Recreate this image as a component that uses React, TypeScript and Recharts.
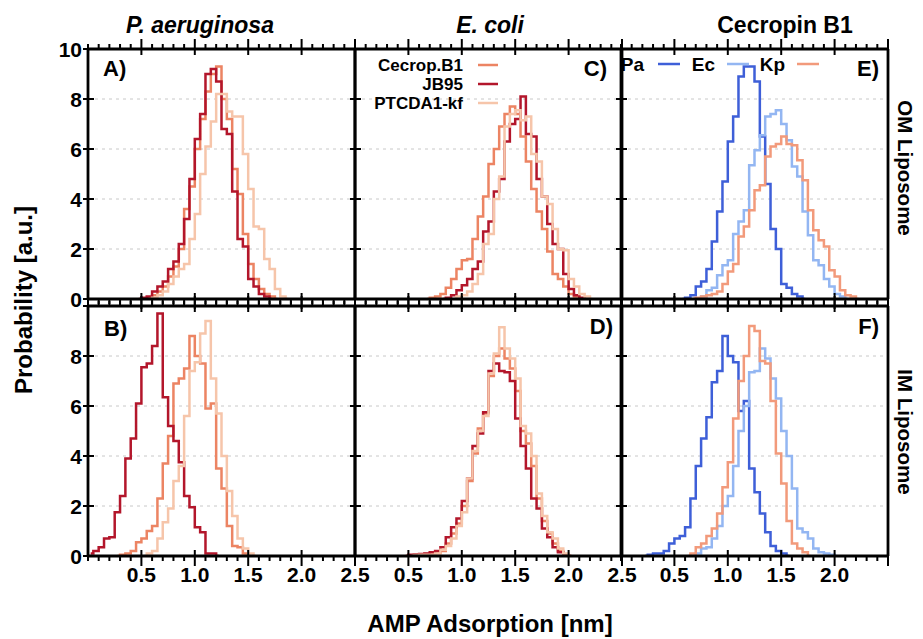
import React from 'react';
import { LineChart, Line, XAxis, YAxis, CartesianGrid } from 'recharts';

// Bin centres (nm), bin width 0.05
const bins = [
  0.025, 0.075, 0.125, 0.175, 0.225, 0.275, 0.325, 0.375, 0.425, 0.475,
  0.525, 0.575, 0.625, 0.675, 0.725, 0.775, 0.825, 0.875, 0.925, 0.975,
  1.025, 1.075, 1.125, 1.175, 1.225, 1.275, 1.325, 1.375, 1.425, 1.475,
  1.525, 1.575, 1.625, 1.675, 1.725, 1.775, 1.825, 1.875, 1.925, 1.975,
  2.025, 2.075, 2.125, 2.175, 2.225, 2.275, 2.325, 2.375, 2.425, 2.475,
];

const _ = null;

// A) P. aeruginosa, OM liposome
const aCecrop = [
  _, _, _, _, _, _, _, _, _, _,
  0, 0.05, 0.15, 0.3, 0.5, 0.9, 1.3, 2.0, 3.6, 4.5,
  6.0, 7.2, 8.3, 9.0, 9.3, 8.0, 7.2, 5.2, 4.2, 2.6,
  1.4, 0.8, 0.4, 0.2, 0.1, 0, _, _, _, _,
  _, _, _, _, _, _, _, _, _, _,
];
const aJB95 = [
  _, _, _, _, _, _, _, _, _, 0,
  0.05, 0.1, 0.3, 0.5, 0.7, 1.2, 1.5, 2.2, 3.2, 4.8,
  6.4, 7.4, 9.0, 9.2, 8.7, 6.8, 6.6, 4.3, 2.4, 2.1,
  0.8, 0.5, 0.2, 0.1, 0, _, _, _, _, _,
  _, _, _, _, _, _, _, _, _, _,
];
const aPTCDA = [
  _, _, _, _, _, _, _, _, _, _,
  _, 0, 0.05, 0.15, 0.3, 0.6, 0.9, 1.2, 1.4, 2.4,
  3.4, 5.0, 6.1, 7.1, 8.2, 8.2, 7.5, 7.3, 7.3, 5.8,
  4.4, 2.9, 2.8, 1.6, 1.2, 0.4, 0.1, 0, _, _,
  _, _, _, _, _, _, _, _, _, _,
];

// B) P. aeruginosa, IM liposome
const bCecrop = [
  _, _, _, _, _, 0, 0.05, 0.1, 0.2, 0.55,
  0.7, 1.0, 1.2, 2.3, 3.7, 4.8, 6.9, 7.1, 7.5, 8.8,
  8.0, 7.7, 5.9, 6.1, 3.5, 2.7, 1.2, 0.4, 0.35, 0.1,
  0, _, _, _, _, _, _, _, _, _,
  _, _, _, _, _, _, _, _, _, _,
];
const bJB95 = [
  0.1, 0.2, 0.35, 0.7, 0.75, 1.75, 2.4, 3.9, 4.7, 6.1,
  7.55, 7.7, 8.4, 9.7, 6.35, 5.2, 4.6, 3.75, 2.4, 1.95,
  1.15, 0.95, 0.1, 0.1, 0, _, _, _, _, _,
  _, _, _, _, _, _, _, _, _, _,
  _, _, _, _, _, _, _, _, _, _,
];
const bPTCDA = [
  _, _, _, _, _, _, _, _, _, _,
  0, 0.1, 0.2, 0.7, 1.35, 1.9, 3.0, 3.6, 5.6, 7.4,
  7.75, 8.9, 9.4, 7.1, 5.7, 4.0, 2.6, 1.6, 0.7, 0.3,
  0.1, 0, _, _, _, _, _, _, _, _,
  _, _, _, _, _, _, _, _, _, _,
];

// C) E. coli, OM liposome
const cCecrop = [
  _, _, _, _, _, _, _, _, _, _,
  _, _, _, 0, 0.05, 0.1, 0.2, 0.45, 0.8, 1.2,
  1.55, 1.6, 2.4, 3.3, 4.1, 5.4, 6.0, 6.9, 7.4, 7.7,
  7.4, 6.5, 5.5, 4.4, 3.5, 2.8, 1.9, 1.0, 0.8, 0.5,
  0.2, 0.1, 0, _, _, _, _, _, _, _,
];
const cJB95 = [
  _, _, _, _, _, _, _, _, _, _,
  _, _, _, _, _, _, 0, 0.05, 0.15, 0.35,
  0.55, 0.8, 1.2, 1.5, 2.7, 3.1, 4.3, 4.8, 6.3, 7.0,
  7.2, 8.1, 6.6, 6.5, 4.8, 4.1, 3.0, 2.2, 2.0, 1.0,
  0.4, 0.15, 0.05, 0, _, _, _, _, _, _,
];
const cPTCDA = [
  _, _, _, _, _, _, _, _, _, _,
  _, _, _, _, _, _, _, _, 0, 0.1,
  0.15, 0.3, 0.6, 1.0, 2.2, 2.6, 4.0, 4.9, 6.9, 7.4,
  7.55, 7.15, 7.3, 5.8, 5.5, 4.1, 3.8, 2.8, 2.0, 1.95,
  0.8, 0.5, 0.2, 0.1, 0, _, _, _, _, _,
];

// D) E. coli, IM liposome
const dCecrop = [
  _, _, _, _, _, _, _, _, _, 0,
  0.03, 0.05, 0.05, 0.08, 0.1, 0.12, 0.2, 0.5, 0.9, 1.3,
  2.0, 3.0, 4.1, 5.1, 5.7, 7.2, 8.0, 8.3, 7.9, 7.5,
  6.6, 5.0, 4.5, 3.6, 2.3, 1.4, 0.9, 0.5, 0.2, 0.05,
  0, _, _, _, _, _, _, _, _, _,
];
const dJB95 = [
  _, _, _, _, _, _, _, _, _, 0,
  0.05, 0.05, 0.08, 0.1, 0.15, 0.2, 0.35, 0.75, 1.15, 1.5,
  2.2, 3.1, 4.4, 4.9, 5.75, 7.4, 7.7, 7.4, 7.35, 7.0,
  5.5, 4.4, 3.5, 2.3, 1.9, 1.1, 0.75, 0.35, 0.15, 0.05,
  0, _, _, _, _, _, _, _, _, _,
];
const dPTCDA = [
  _, _, _, _, _, _, _, _, _, _,
  0, 0.02, 0.05, 0.05, 0.05, 0.1, 0.25, 0.4, 0.7, 1.2,
  1.75, 3.1, 4.2, 5.0, 5.6, 7.3, 8.1, 9.15, 8.3, 7.9,
  7.1, 5.2, 4.9, 4.0, 2.5, 1.6, 0.95, 0.7, 0.3, 0.1,
  0, _, _, _, _, _, _, _, _, _,
];

// E) Cecropin B1, OM liposome
const ePa = [
  _, _, _, _, _, _, _, _, _, _,
  _, 0, 0.05, 0.15, 0.5, 0.7, 1.2, 2.3, 3.5, 4.7,
  6.3, 7.3, 8.9, 9.3, 9.3, 8.7, 6.5, 4.6, 2.8, 2.0,
  0.6, 0.45, 0.2, 0.1, 0, _, _, _, _, _,
  _, _, _, _, _, _, _, _, _, _,
];
const eEc = [
  _, _, _, _, _, _, _, _, _, _,
  _, _, _, _, 0, 0.1, 0.35, 0.45, 0.95, 1.35,
  1.55, 2.6, 3.1, 3.55, 5.35, 5.95, 6.55, 7.3, 7.4, 7.55,
  7.0, 6.35, 5.3, 4.9, 3.5, 2.55, 1.55, 1.35, 0.8, 0.5,
  0.2, 0.1, 0, _, _, _, _, _, _, _,
];
const eKp = [
  _, _, _, _, _, _, _, _, _, _,
  _, _, _, 0, 0.05, 0.1, 0.15, 0.2, 0.3, 0.6,
  1.1, 1.4, 2.5, 2.9, 3.55, 4.35, 4.55, 5.7, 6.1, 6.2,
  6.5, 6.2, 6.15, 5.55, 4.75, 3.55, 2.75, 2.35, 2.1, 1.15,
  0.9, 0.35, 0.15, 0.1, 0, _, _, _, _, _,
];

// F) Cecropin B1, IM liposome
const fPa = [
  _, _, _, _, 0, 0.05, 0.1, 0.1, 0.2, 0.5,
  0.7, 0.8, 1.15, 2.3, 3.6, 4.7, 5.55, 6.95, 7.4, 8.8,
  8.0, 7.75, 5.8, 6.2, 3.5, 2.55, 1.7, 0.95, 0.4, 0.2,
  0.1, 0, _, _, _, _, _, _, _, _,
  _, _, _, _, _, _, _, _, _, _,
];
const fEc = [
  _, _, _, _, _, _, _, _, _, _,
  _, _, _, 0, 0.1, 0.3, 0.35, 0.7, 1.2, 2.0,
  2.4, 3.6, 5.0, 6.0, 7.35, 7.4, 8.3, 7.9, 7.1, 6.3,
  5.0, 4.0, 2.7, 1.1, 0.95, 0.7, 0.3, 0.15, 0.1, 0.05,
  0, _, _, _, _, _, _, _, _, _,
];
const fKp = [
  _, _, _, _, _, _, _, _, _, _,
  _, _, 0, 0.1, 0.35, 0.5, 0.8, 1.1, 1.7, 2.75,
  3.75, 5.5, 7.0, 8.0, 9.2, 9.0, 7.8, 7.7, 6.2, 4.1,
  2.9, 1.4, 0.5, 0.3, 0.15, 0, _, _, _, _,
  _, _, _, _, _, _, _, _, _, _,
];

// axis ticks and labels
const minorTicks = [
  0, 0.1, 0.2, 0.3, 0.4, 0.5, 0.6, 0.7, 0.8, 0.9, 1.0, 1.1, 1.2,
  1.3, 1.4, 1.5, 1.6, 1.7, 1.8, 1.9, 2.0, 2.1, 2.2, 2.3, 2.4, 2.5,
];
const majorTicks = [0.5, 1.0, 1.5, 2.0, 2.5];
const xLabels = ['0.5', '1.0', '1.5', '2.0', '2.5'];
const xLabelsLast = ['0.5', '1.0', '1.5', '2.0'];
const yTicks = [0, 2, 4, 6, 8, 10];
const yLabelsTop = ['0', '2', '4', '6', '8', '10'];
const yLabelsBottom = ['0', '2', '4', '6', '8'];

const RED = '#b3162b';
const SALMON = '#ec8463';
const PEACH = '#f6c5aa';
const BLUE = '#3e5fd8';
const LIGHTBLUE = '#93b6f2';
const KP = '#f29a7b';

const FONT = "'Liberation Sans', Arial, Helvetica, sans-serif";

const W = 267;
const H = 250;
const P = 45;
const COLS = [88, 355, 621];
const ROWS = [49, 306];

interface Series {
  name: string;
  values: (number | null)[];
  color: string;
}

interface PanelProps {
  col: number;
  row: number;
  series: Series[];
}

const black = { stroke: '#000', strokeWidth: 2.8 };
const labelFont = { fill: '#000', fontSize: 21, fontWeight: 700, fontFamily: FONT } as const;

const isMajor = (v: number) => majorTicks.some((m) => Math.abs(m - v) < 1e-6);
const labelOf = (v: number, labels: string[]) =>
  labels.find((l) => Math.abs(parseFloat(l) - v) < 1e-6);

// custom tick renderers: draw tick mark and (optional) label
const bottomTick = (labels: string[]) => (props: any) => {
  const { x, y, payload } = props;
  const v = payload.value as number;
  const major = isMajor(v);
  const lab = labelOf(v, labels);
  return (
    <g>
      <line x1={x} x2={x} y1={major ? y - 6 : y} y2={y + (major ? 10 : 5)} stroke="#000" strokeWidth={2} />
      {lab && <text x={x} y={y + 26} textAnchor="middle" {...labelFont}>{lab}</text>}
    </g>
  );
};

const topTick = (props: any) => {
  const { x, y, payload } = props;
  const major = isMajor(payload.value);
  return <line x1={x} x2={x} y1={y - (major ? 10 : 5)} y2={major ? y + 6 : y} stroke="#000" strokeWidth={2} />;
};

const leftTick = (labels: string[]) => (props: any) => {
  const { x, y, payload } = props;
  const lab = labelOf(payload.value, labels);
  return (
    <g>
      <line x1={x - 5} x2={x + 6} y1={y} y2={y} stroke="#000" strokeWidth={2} />
      {lab && <text x={x - 6} y={y + 7.5} textAnchor="end" {...labelFont}>{lab}</text>}
    </g>
  );
};

const rightTick = (props: any) => {
  const { x, y } = props;
  return <line x1={x - 8} x2={x} y1={y} y2={y} stroke="#000" strokeWidth={2} />;
};

const Panel: React.FC<PanelProps> = ({ col, row, series }) => {
  const rows = bins.map((x, i) => {
    const r: Record<string, number | null> = { x };
    series.forEach((s, j) => { r['s' + j] = s.values[i]; });
    return r;
  });
  const xl = row === 1 ? (col === 2 ? xLabelsLast : xLabels) : [];
  const yl = col === 0 ? (row === 0 ? yLabelsTop : yLabelsBottom) : [];
  return (
    <div style={{ position: 'absolute', left: COLS[col] - P - 1, top: ROWS[row] - P - 1 }}>
      <LineChart width={W + 2 * P + 2} height={H + 2 * P + 2} data={rows}
        margin={{ top: P, right: P, bottom: P, left: P }}>
        <CartesianGrid vertical={false} stroke="#c8c8c8" strokeDasharray="3 4" />
        <XAxis dataKey="x" type="number" domain={[0, 2.5]} allowDataOverflow ticks={minorTicks}
          interval={0} height={1} tickSize={0} tickMargin={0} tickLine={false}
          tick={bottomTick(xl)} axisLine={black} />
        <XAxis xAxisId="t" orientation="top" dataKey="x" type="number" domain={[0, 2.5]}
          ticks={minorTicks} interval={0} height={1} tickSize={0} tickMargin={0} tickLine={false}
          tick={topTick} axisLine={black} />
        <YAxis type="number" domain={[0, 10]} allowDataOverflow ticks={yTicks} interval={0}
          width={1} tickSize={0} tickMargin={0} tickLine={false} tick={leftTick(yl)} axisLine={black} />
        <YAxis yAxisId="r" orientation="right" type="number" domain={[0, 10]} ticks={yTicks}
          interval={0} width={1} tickSize={0} tickMargin={0} tickLine={false} tick={rightTick}
          axisLine={black} />
        {series.map((s, j) => (
          <Line key={s.name} dataKey={'s' + j} type="step" stroke={s.color} strokeWidth={2.5}
            dot={false} activeDot={false} connectNulls={false} isAnimationActive={false} />
        ))}
      </LineChart>
    </div>
  );
};

const panels: PanelProps[] = [
  { col: 0, row: 0, series: [
    { name: 'Cecrop.B1', values: aCecrop, color: SALMON },
    { name: 'JB95', values: aJB95, color: RED },
    { name: 'PTCDA1-kf', values: aPTCDA, color: PEACH },
  ] },
  { col: 0, row: 1, series: [
    { name: 'Cecrop.B1', values: bCecrop, color: SALMON },
    { name: 'JB95', values: bJB95, color: RED },
    { name: 'PTCDA1-kf', values: bPTCDA, color: PEACH },
  ] },
  { col: 1, row: 0, series: [
    { name: 'Cecrop.B1', values: cCecrop, color: SALMON },
    { name: 'JB95', values: cJB95, color: RED },
    { name: 'PTCDA1-kf', values: cPTCDA, color: PEACH },
  ] },
  { col: 1, row: 1, series: [
    { name: 'Cecrop.B1', values: dCecrop, color: SALMON },
    { name: 'JB95', values: dJB95, color: RED },
    { name: 'PTCDA1-kf', values: dPTCDA, color: PEACH },
  ] },
  { col: 2, row: 0, series: [
    { name: 'Pa', values: ePa, color: BLUE },
    { name: 'Ec', values: eEc, color: LIGHTBLUE },
    { name: 'Kp', values: eKp, color: KP },
  ] },
  { col: 2, row: 1, series: [
    { name: 'Pa', values: fPa, color: BLUE },
    { name: 'Ec', values: fEc, color: LIGHTBLUE },
    { name: 'Kp', values: fKp, color: KP },
  ] },
];

const bold = { fontFamily: FONT, fontWeight: 700, fill: '#000' } as const;

export default function App() {
  return (
    <div style={{ position: 'absolute', left: 0, top: 0, width: 923, height: 639, background: '#fff', fontFamily: FONT }}>
      {panels.map((p) => <Panel key={`${p.col}-${p.row}`} {...p} />)}
      <svg width={923} height={639} style={{ position: 'absolute', left: 0, top: 0, pointerEvents: 'none' }}>
        {/* column titles */}
        <text x={200} y={33} textAnchor="middle" fontSize={23} fontStyle="italic" {...bold}>P. aeruginosa</text>
        <text x={490} y={33} textAnchor="middle" fontSize={23} fontStyle="italic" {...bold}>E. coli</text>
        <text x={785} y={33} textAnchor="middle" fontSize={23} {...bold}>Cecropin B1</text>

        {/* axis titles */}
        <text transform="translate(32,300) rotate(-90)" textAnchor="middle" fontSize={24} {...bold}>Probability [a.u.]</text>
        <text x={490} y={632} textAnchor="middle" fontSize={24} {...bold}>AMP Adsorption [nm]</text>
        <text transform="translate(898,168) rotate(90)" textAnchor="middle" fontSize={20.5} {...bold}>OM Liposome</text>
        <text transform="translate(898,432) rotate(90)" textAnchor="middle" fontSize={20.5} {...bold}>IM Liposome</text>

        {/* panel letters */}
        <text x={103} y={76} fontSize={22} {...bold}>A)</text>
        <text x={104} y={336} fontSize={22} {...bold}>B)</text>
        <text x={607} y={76} textAnchor="end" fontSize={22} {...bold}>C)</text>
        <text x={613} y={334} textAnchor="end" fontSize={22} {...bold}>D)</text>
        <text x={879} y={76} textAnchor="end" fontSize={22} {...bold}>E)</text>
        <text x={879} y={334} textAnchor="end" fontSize={22} {...bold}>F)</text>

        {/* legend C */}
        <text x={463} y={71} textAnchor="end" fontSize={17} {...bold}>Cecrop.B1</text>
        <line x1={478} x2={498} y1={65} y2={65} stroke={SALMON} strokeWidth={2.5} />
        <text x={463} y={90} textAnchor="end" fontSize={17} {...bold}>JB95</text>
        <line x1={478} x2={498} y1={84} y2={84} stroke={RED} strokeWidth={2.5} />
        <text x={463} y={109} textAnchor="end" fontSize={17} {...bold}>PTCDA1-kf</text>
        <line x1={478} x2={498} y1={103} y2={103} stroke={PEACH} strokeWidth={2.5} />

        {/* legend E */}
        <text x={644} y={71} textAnchor="end" fontSize={19} {...bold}>Pa</text>
        <line x1={658} x2={680} y1={64} y2={64} stroke={BLUE} strokeWidth={2.5} />
        <text x={715} y={71} textAnchor="end" fontSize={19} {...bold}>Ec</text>
        <line x1={727} x2={749} y1={64} y2={64} stroke={LIGHTBLUE} strokeWidth={2.5} />
        <text x={785} y={71} textAnchor="end" fontSize={19} {...bold}>Kp</text>
        <line x1={797} x2={819} y1={64} y2={64} stroke={KP} strokeWidth={2.5} />
      </svg>
    </div>
  );
}
